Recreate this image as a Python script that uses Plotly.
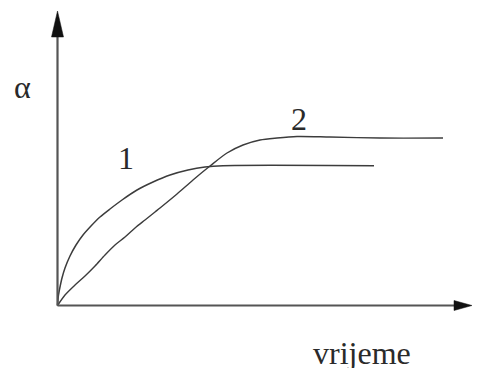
import plotly.graph_objects as go

# time / degree of conversion, in chart units (origin at the axes corner)
T_CURVE_1 = [0, 1, 2.5, 4.5, 7.5, 12.5, 18.5, 25.5, 33.5, 42.5, 52.5, 64.5, 79.5, 95.5, 112.5,
             130.5, 147.5, 165.5, 316.5]
A_CURVE_1 = [0, 10.5, 18.5, 27.5, 37.5, 49.5, 60.5, 70.5, 79.5, 88.5, 96.5, 105.5, 115.5, 123.5,
             130.5, 135.5, 138.5, 139.8, 139.8]

T_CURVE_2 = [0, 7.5, 17.5, 27.5, 37.5, 47.5, 57.5, 67.5, 77.5, 87.5, 97.5, 102.5, 119.5, 135.5,
             152.5, 169.5, 185.5, 202.5, 219.5, 239.5, 272.5, 322.5, 385.5]
A_CURVE_2 = [0, 10.5, 20.5, 29.5, 39.5, 50.5, 60.5, 68.5, 77.5, 85.5, 93.5, 97.5, 111.5, 125.5,
             139.5, 152.5, 160.5, 165.5, 167.5, 169.0, 168.5, 167.5, 167.5]

CURVE_LABELS = ['1', '2']
LABEL_T = [68.5, 241.5]
LABEL_A = [147.5, 186.5]

X_TITLE = 'vrijeme'
Y_TITLE = 'α'

X_MIN, X_MAX = -49.5, 423.5
Y_MIN, Y_MAX = -62.5, 297.5
X_END = 414.5   # the last few px of the page are lost to the scrollbar gutter
Y_END = 294.5

FONT = 'Liberation Serif'
INK = '#2a2a2a'
AXIS_INK = '#555555'
CURVE_INK = '#3c3c3c'

fig = go.Figure()
fig.add_trace(go.Scatter(x=T_CURVE_1, y=A_CURVE_1, mode='lines',
                         line=dict(color=CURVE_INK, width=1.5, shape='spline', smoothing=0.8),
                         showlegend=False, hoverinfo='skip'))
fig.add_trace(go.Scatter(x=T_CURVE_2, y=A_CURVE_2, mode='lines',
                         line=dict(color=CURVE_INK, width=1.4, shape='spline', smoothing=0.8),
                         showlegend=False, hoverinfo='skip'))

shapes = [
    dict(type='line', x0=0, y0=0, x1=0, y1=Y_END - 10, line=dict(color=AXIS_INK, width=2.2)),
    dict(type='line', x0=0, y0=0, x1=X_END - 10, y1=0, line=dict(color=AXIS_INK, width=2.2)),
    dict(type='path', path=f'M -6,{Y_END - 26} L 0,{Y_END} L 6,{Y_END - 26} Z',
         fillcolor='#111111', line=dict(color='#111111', width=0.5)),
    dict(type='path', path=f'M {X_END - 18},5 L {X_END},0 L {X_END - 18},-5 Z',
         fillcolor='#111111', line=dict(color='#111111', width=0.5)),
]

annotations = [
    dict(x=t, y=a, text=s, showarrow=False, font=dict(family=FONT, size=32, color=INK))
    for s, t, a in zip(CURVE_LABELS, LABEL_T, LABEL_A)
]
annotations.append(dict(x=-35.5, y=218.5, text=Y_TITLE, showarrow=False,
                        font=dict(family=FONT, size=32, color=INK)))
annotations.append(dict(x=304.5, y=-47.5, text=X_TITLE, showarrow=False,
                        font=dict(family=FONT, size=32, color=INK)))

# the page body keeps its default 8px margin, so the figure starts at (8, 8)
fig.update_layout(
    width=473, height=360,
    margin=dict(l=0, r=0, t=0, b=0),
    plot_bgcolor='#FFFFFF', paper_bgcolor='#FFFFFF',
    xaxis=dict(range=[X_MIN, X_MAX], visible=False, fixedrange=True),
    yaxis=dict(range=[Y_MIN, Y_MAX], visible=False, fixedrange=True),
    shapes=shapes,
    annotations=annotations,
)

fig.write_html('out.html')
